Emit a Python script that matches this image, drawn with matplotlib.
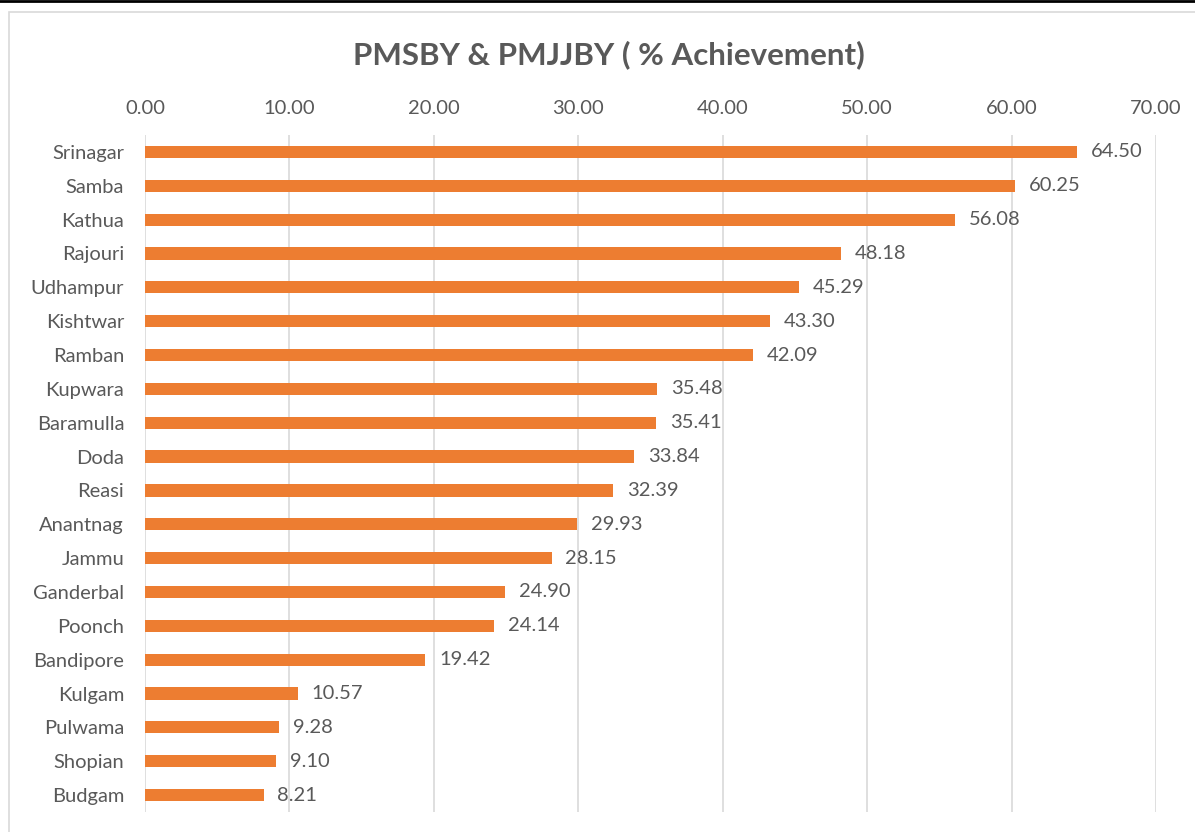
import matplotlib.pyplot as plt
from matplotlib.patches import Rectangle
from matplotlib.lines import Line2D

districts = ["Srinagar", "Samba", "Kathua", "Rajouri", "Udhampur", "Kishtwar", "Ramban",
             "Kupwara", "Baramulla", "Doda", "Reasi", "Anantnag", "Jammu", "Ganderbal",
             "Poonch", "Bandipore", "Kulgam", "Pulwama", "Shopian", "Budgam"]
achievement = [64.50, 60.25, 56.08, 48.18, 45.29, 43.30, 42.09, 35.48, 35.41, 33.84,
               32.39, 29.93, 28.15, 24.90, 24.14, 19.42, 10.57, 9.28, 9.10, 8.21]
x_ticks = [0, 10, 20, 30, 40, 50, 60, 70]

text_col = "#595959"
bar_col = "#ED7D31"
grid_col = "#D9D9D9"

plt.rcParams['font.family'] = ['Lato', 'DejaVu Sans']

fig = plt.figure(figsize=(11.95, 8.32), dpi=100)
ax = fig.add_axes([145 / 1195, 1 - 812 / 832, (1156 - 145) / 1195, (812 - 135) / 832])

# chart frame like the spreadsheet export
fig.add_artist(Rectangle((9 / 1195, -0.05), 1.1, 1 - 12 / 832 + 0.05, transform=fig.transFigure,
                         fill=False, edgecolor="#D9D9D9", linewidth=1.2))
fig.add_artist(Line2D([0, 1], [1 - 1 / 832, 1 - 1 / 832], transform=fig.transFigure,
                      color="black", linewidth=2))

pos = list(range(len(districts)))
bars = ax.barh(pos, achievement, height=0.36, color=bar_col, zorder=3)
ax.bar_label(bars, labels=[f"{v:.2f}" for v in achievement], padding=10,
             fontsize=14.5, color=text_col)

ax.set_ylim(len(districts) - 0.5, -0.5)
ax.set_yticks(pos)
ax.set_yticklabels(districts)
ax.set_xlim(0, 70)
ax.set_xticks(x_ticks)
ax.set_xticklabels([f"{t:.2f}" for t in x_ticks])
ax.xaxis.tick_top()
ax.tick_params(axis='both', length=0, labelsize=14.5, labelcolor=text_col)
ax.tick_params(axis='x', pad=13)
ax.tick_params(axis='y', pad=15)
ax.grid(axis='x', color=grid_col, linewidth=1.2, zorder=0)
for s in ax.spines.values():
    s.set_visible(False)

fig.text(609 / 1195, 1 - 55 / 832, "PMSBY & PMJJBY ( % Achievement)", ha='center', va='center',
         fontsize=22.5, fontweight='bold', color=text_col)

fig.savefig("out.png", dpi=100)
